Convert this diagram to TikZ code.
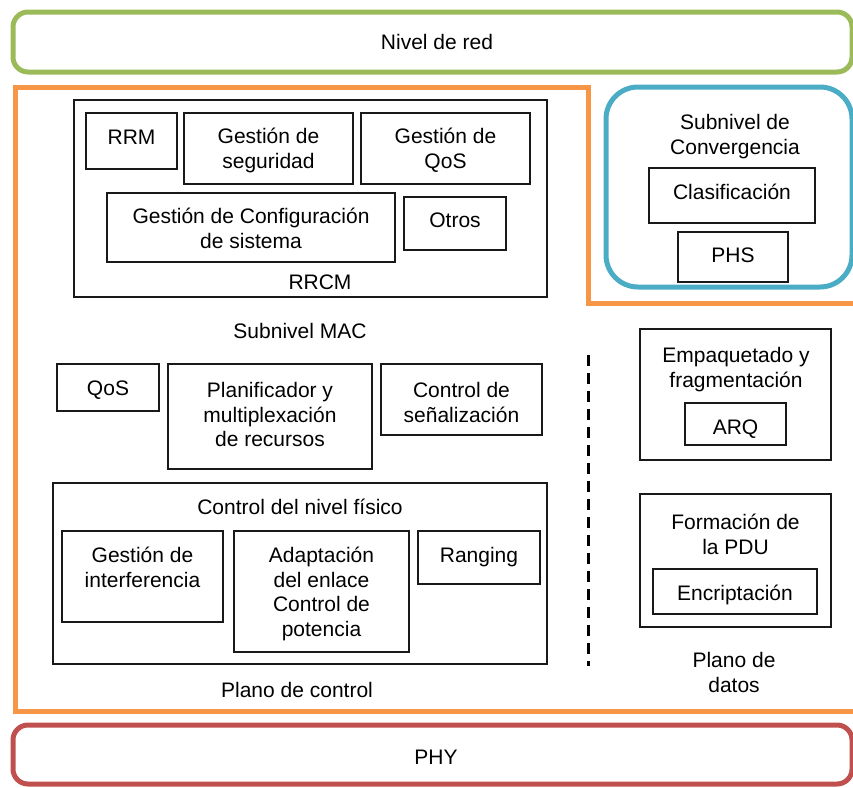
\documentclass[tikz,border=0pt]{standalone}
\usepackage{fontspec}
\setmainfont{Liberation Sans}
\definecolor{cgreen}{HTML}{9BBB59}
\definecolor{corange}{HTML}{F79646}
\definecolor{cblue}{HTML}{4BACC6}
\definecolor{cred}{HTML}{C0504D}
\newcommand\bxn[5]{\node[bx,minimum width={(#4)-(#2)},minimum height={(#5)-(#3)}] (#1) at ({((#2)+(#4))/2},{((#3)+(#5))/2}) {};}
\begin{document}
\begin{tikzpicture}[x=1pt,y=-1pt,
  bx/.style={draw=black!90,line width=1.4pt,inner sep=0pt,rectangle},
  txt/.style={font=\fontsize{21}{24.5}\selectfont,align=center,anchor=base,inner sep=0pt},
  band/.style={line width=5pt,inner sep=0pt,font=\fontsize{21}{24.5}\selectfont},
]
\useasboundingbox (0,0) rectangle (853,787);
% outer bands
\node[band,draw=cgreen,rounded corners=15pt,minimum width=839,minimum height=60] (red) at (432.5,42) {};
\node[txt] (t-red) at (437,49) {Nivel de red};
\node[band,draw=cred,rounded corners=15pt,minimum width=839,minimum height=59] (phy) at (432.5,754.5) {};
\node[txt] (t-phy) at (436,764) {PHY};
\draw[corange,line width=5pt] (880,303) -- (588,303) -- (588,87) -- (15,87) -- (15,711) -- (880,711);
\node[band,draw=cblue,rounded corners=32pt,minimum width=246,minimum height=200] (conv) at (729,187) {};
\node[txt] (t-conv) at (735,154) {Subnivel de\\Convergencia};
% convergence sublayer
\bxn{clasif}{649}{168}{815}{223}
\node[txt] (t-clasif) at (732,199.5) {Clasificación};
\bxn{phs}{678}{232}{788}{282}
\node[txt] (t-phs) at (733,262.5) {PHS};
% RRCM
\bxn{rrcm}{74}{100}{547}{297}
\bxn{rrm}{86}{113}{177}{169}
\node[txt] (t-rrm) at (131.5,144) {RRM};
\bxn{seg}{184}{113}{353}{184}
\node[txt] (t-seg) at (268.5,168) {Gestión de\\seguridad};
\bxn{gqos}{361}{113}{530}{184}
\node[txt] (t-gqos) at (445.5,168) {Gestión de\\QoS};
\bxn{conf}{107}{193}{395}{262}
\node[txt] (t-conf) at (251,248) {Gestión de Configuración\\de sistema};
\bxn{otros}{404}{197}{506}{250}
\node[txt] (t-otros) at (455,227.5) {Otros};
\node[txt] (t-rrcm) at (320,289.5) {RRCM};
\node[txt] (t-mac) at (300,338.5) {Subnivel MAC};
% MAC
\bxn{qos}{57}{364}{159}{411}
\node[txt] (t-qos) at (108,395.5) {QoS};
\bxn{plan}{168}{364}{372}{469}
\node[txt] (t-plan) at (270,446.5) {Planificador y\\multiplexación\\de recursos};
\bxn{senal}{381}{364}{542}{435}
\node[txt] (t-senal) at (461.5,422) {Control de\\señalización};
% physical control
\bxn{cnf}{53}{483}{547}{664}
\node[txt] (t-cnf) at (300,514.5) {Control del nivel físico};
\bxn{interf}{62}{531}{223}{622}
\node[txt] (t-interf) at (142.5,587) {Gestión de\\interferencia};
\bxn{adapt}{234}{531}{409}{652}
\node[txt] (t-adapt) at (321.5,636) {Adaptación\\del enlace\\Control de\\potencia};
\bxn{rang}{418}{531}{540}{584}
\node[txt] (t-rang) at (479,562.5) {Ranging};
\node[txt] (t-pctl) at (297,697.5) {Plano de control};
% data plane
\coordinate (dtop) at (588,355);
\coordinate (dbot) at (588,666);
\draw[line width=3pt,dash pattern=on 11pt off 7pt] (dtop) -- (dbot);
\bxn{empaq}{640}{329}{831}{460}
\node[txt] (t-empaq) at (736,387) {Empaquetado y\\fragmentación};
\bxn{arq}{685}{403}{786}{445}
\node[txt] (t-arq) at (735.5,434.5) {ARQ};
\bxn{pdu}{640}{494}{831}{627}
\node[txt] (t-pdu) at (735.5,554) {Formación de\\la PDU};
\bxn{encr}{653}{569}{817}{614}
\node[txt] (t-encr) at (735,600.5) {Encriptación};
\node[txt] (t-pdat) at (734,692) {Plano de\\datos};
\end{tikzpicture}
\end{document}
